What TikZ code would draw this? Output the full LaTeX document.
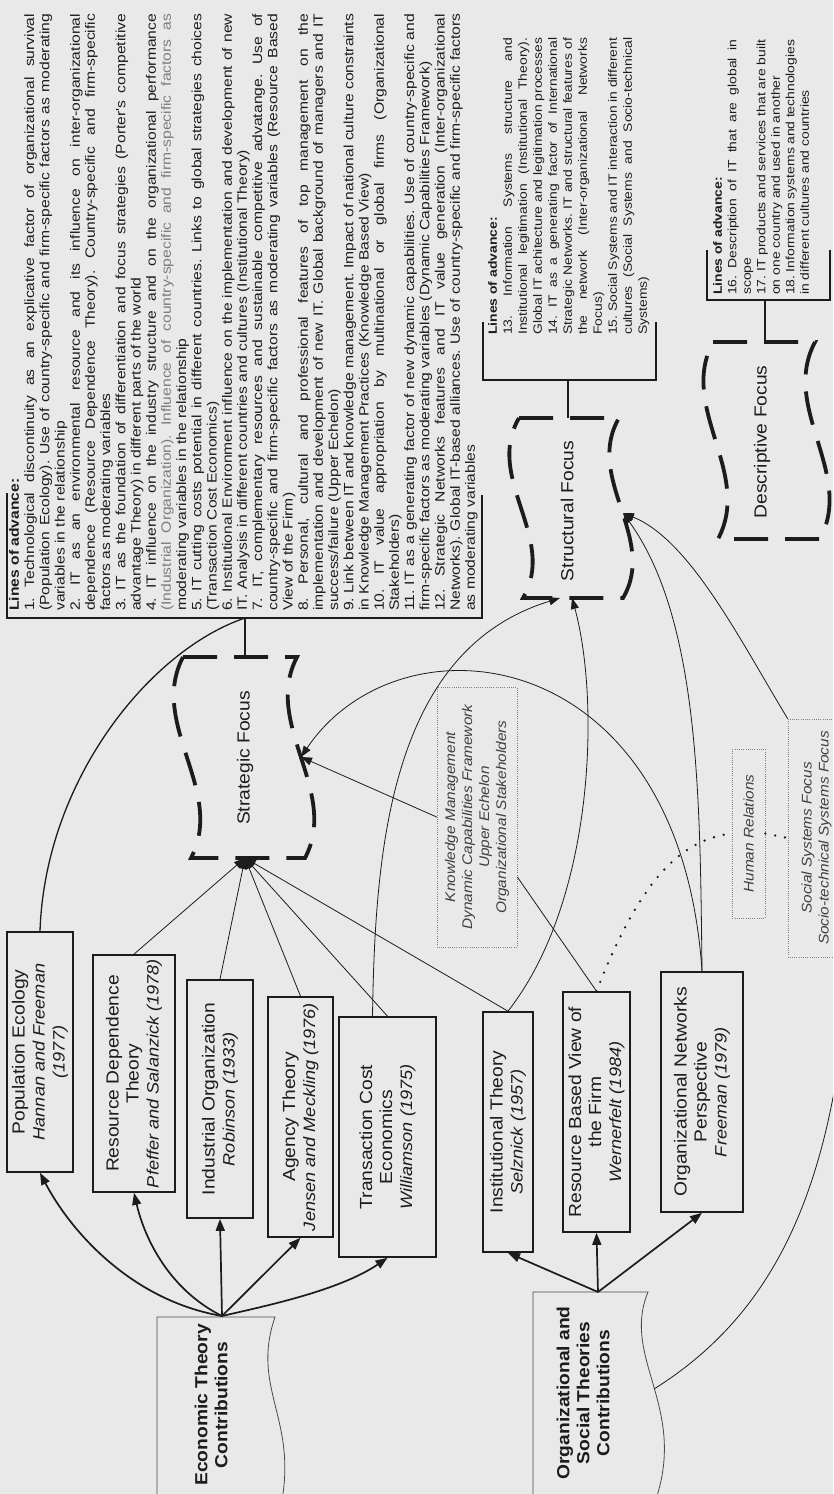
\documentclass[tikz,border=0pt]{standalone}
\usepackage{fontspec}
\setmainfont{Liberation Sans}[FakeStretch=1.1]
\newfontfamily\loafont{Liberation Sans}[FakeStretch=1.16]
\usetikzlibrary{arrows.meta,calc}
\definecolor{bg}{RGB}{233,233,233}
\definecolor{ink}{RGB}{28,28,28}
\definecolor{dimink}{RGB}{125,125,125}
\newcommand{\au}[1]{{\fontsize{16.5}{20}\selectfont\itshape #1}}
\newcommand{\loaset}{\loafont\frenchspacing\tolerance=10000 \hbadness=10000 \hfuzz=60pt \hyphenpenalty=10000 \exhyphenpenalty=10000 \parindent=0pt \parskip=0pt }
\begin{document}
\begin{tikzpicture}[x=1pt,y=-1pt,
  theory/.style={draw=ink, line width=1.7pt, rotate=90, align=center, inner sep=2pt, font=\fontsize{17.5}{20}\selectfont, text=ink},
  doctext/.style={rotate=90, align=center, inner sep=0pt, font=\fontsize{17.5}{20}\selectfont\bfseries, text=ink},
  focustext/.style={rotate=90, inner sep=0pt, font=\fontsize{17.5}{20}\selectfont, text=ink},
  dotbox/.style={draw=black!50, line width=0.7pt, dash pattern=on 1pt off 1.2pt, rotate=90, align=center, inner sep=0pt, font=\fontsize{14}{17}\selectfont\itshape, text=black!75},
  loa/.style={rotate=90, anchor=north west, inner sep=0pt, text=ink},
  focusline/.style={draw=ink, line width=3.8pt, dash pattern=on 34pt off 17pt},
  brk/.style={draw=ink, line width=1.6pt},
  curveline/.style={draw=ink, line width=1.3pt},
  thickarrow/.style={draw=ink, line width=1.7pt, -{Triangle[length=12pt,width=9pt]}},
  thinarrow/.style={draw=ink, line width=0.8pt, -{Triangle[length=11pt,width=8pt]}},
  thinline/.style={draw=ink, line width=0.8pt},
  dotline/.style={draw=ink, line width=2.6pt, dash pattern=on 0pt off 10pt, line cap=round},
  docline/.style={draw=ink!80, line width=0.8pt}
]
\path[use as bounding box] (0,0) rectangle (833,1494);
\clip (0,0) rectangle (833,1494);
\fill[bg] (0,0) rectangle (833,1494);

% ---------- Lines of advance (strategic) ----------
\node[loa] (loa1) at (9,611) {\parbox{597pt}{\fontsize{13.5}{15.2}\selectfont\loaset
\textbf{Lines of advance:}\par
1. Technological discontinuity as an explicative factor of organizational survival\linebreak
(Population Ecology). Use of country-specific and firm-specific factors as moderating\linebreak
variables in the relationship\par
2. IT as an environmental resource and its influence on inter-organizational\linebreak
dependence (Resource Dependence Theory). Country-specific and firm-specific\linebreak
factors as moderating variables\par
3. IT as the foundation of differentiation and focus strategies (Porter's competitive\linebreak
advantage Theory) in different parts of the world\par
4. IT influence on the industry structure and on the organizational performance\linebreak
{\color{dimink}(Industrial Organization). Influence of country-specific and firm-specific factors as}\linebreak
moderating variables in the relationship\par
5. IT cutting costs potential in different countries. Links to global strategies choices\linebreak
(Transaction Cost Economics)\par
6. Institutional Environment influence on the implementation and development of new\linebreak
IT. Analysis in different countries and cultures (Institutional Theory)\par
7. IT, complementary resources and sustainable competitive advatange. Use of\linebreak
country-specific and firm-specific factors as moderating variables (Resource Based\linebreak
View of the Firm)\par
8. Personal, cultural and professional features of top management on the\linebreak
implementation and development of new IT. Global background of managers and IT\linebreak
success/failure (Upper Echelon)\par
9. Link between IT and knowledge management. Impact of national culture constraints\linebreak
in Knowledge Management Practices (Knowledge Based View)\par
10. IT value appropriation by multinational or global firms (Organizational\linebreak
Stakeholders)\par
11. IT as a generating factor of new dynamic capabilities. Use of country-specific and\linebreak
firm-specific factors as moderating variables (Dynamic Capabilities Framework)\par
12. Strategic Networks features and IT value generation (Inter-organizational\linebreak
Networks). Global IT-based alliances. Use of country-specific and firm-specific factors\linebreak
as moderating variables\par}};

% ---------- Lines of advance (structural) ----------
\node[loa] (loa2) at (488,335) {\parbox{297pt}{\fontsize{12}{15}\selectfont\loaset
\textbf{Lines of advance:}\par
13. Information Systems structure and\linebreak
Institutional legitimation (Institutional Theory).\linebreak
Global IT achitecture and legitimation processes\par
14. IT as a generating factor of International\linebreak
Strategic Networks. IT and structural features of\linebreak
the network (Inter-organizational Networks\linebreak
Focus)\par
15. Social Systems and IT interaction in different\linebreak
cultures (Social Systems and Socio-technical\linebreak
Systems)\par}};

% ---------- Lines of advance (descriptive) ----------
\node[loa] (loa3) at (713,295) {\parbox{255pt}{\fontsize{12}{14.5}\selectfont\loaset
\textbf{Lines of advance:}\par
16. Description of IT that are global in\linebreak
scope\par
17. IT products and services that are built\linebreak
on one country and used in another\par
18. Information systems and technologies\linebreak
in different cultures and countries\par}};

% brackets
\draw[brk] (7,493) -- (7,618) -- (482,618) -- (482,495);
\coordinate (bigb) at (245,618);
\draw[brk] (483,322) -- (483,380) -- (656,380) -- (656,322);
\coordinate (stmb) at (568,380);
\draw[brk] (707,250) -- (707,300) -- (830,300) -- (830,250);
\coordinate (dsb) at (765,300);

% ---------- Focus shapes ----------
\draw[focusline] (183,657) -- (297,657) .. controls (262,724) and (340,791) .. (305,858) -- (191,858) .. controls (226,791) and (148,724) .. (183,657) -- cycle;
\node[focustext] (sf) at (245,758) {Strategic Focus};
\coordinate (sft) at (245,657);
\coordinate (sfb) at (245,858);
\coordinate (sfr) at (301,757);

\draw[focusline] (519,418) -- (619,418) .. controls (584,478) and (658,538) .. (623,598) -- (523,598) .. controls (558,538) and (484,478) .. (519,418) -- cycle;
\node[focustext] (stf) at (567,511) {Structural Focus};
\coordinate (stt) at (568,418);
\coordinate (stb1) at (560,598);
\coordinate (stb2) at (572,598);
\coordinate (str) at (623,513);

\draw[focusline] (713,342) -- (815,342) .. controls (780,408) and (855,473) .. (820,539) -- (718,539) .. controls (753,473) and (678,408) .. (713,342) -- cycle;
\node[focustext] (dsf) at (762,442) {Descriptive Focus};
\coordinate (dft) at (765,342);

\draw[brk] (bigb) -- (sft);
\draw[brk] (stmb) -- (stt);
\draw[brk] (dsb) -- (dft);

% ---------- Theory boxes ----------
\node[theory, minimum width=240pt, minimum height=66pt] (pe) at (40,1052) {Population Ecology\\\au{Hannan and Freeman}\\\au{(1977)}};
\node[theory, minimum width=237pt, minimum height=82pt] (rd) at (134,1073.5) {Resource Dependence\\Theory\\\au{Pfeffer and Salanzick (1978)}};
\node[theory, minimum width=238pt, minimum height=66pt] (io) at (220,1099) {Industrial Organization\\\au{Robinson (1933)}};
\node[theory, minimum width=240pt, minimum height=65pt] (at) at (300.5,1117) {Agency Theory\\\au{Jensen and Meckling (1976)}};
\node[theory, minimum width=240pt, minimum height=97pt] (tc) at (387.5,1137) {Transaction Cost\\Economics\\\au{Williamson (1975)}};
\node[theory, minimum width=240pt, minimum height=50pt] (int) at (508,1132) {Institutional Theory\\\au{Selznick (1957)}};
\node[theory, minimum width=240pt, minimum height=67pt] (rbv) at (596.5,1112) {Resource Based View of\\the Firm\\\au{Wernerfelt (1984)}};
\node[theory, minimum width=240pt, minimum height=82pt] (on) at (702,1092) {Organizational Networks\\Perspective\\\au{Freeman (1979)}};

% ---------- Dotted boxes ----------
\node[dotbox, minimum width=260pt, minimum height=80pt] (km) at (477,817) {Knowledge Management\\Dynamic Capabilities Framework\\Upper Echelon\\Organizational Stakeholders};
\node[dotbox, minimum width=169pt, minimum height=33pt] (hr) at (748.5,833.5) {Human Relations};
\node[dotbox, minimum width=238pt, minimum height=57pt] (ss) at (816.5,838) {Social Systems Focus\\Socio-technical Systems Focus};

% ---------- Contribution documents ----------
\draw[docline] (157,1317) -- (275,1317) .. controls (250,1390) and (300,1420) .. (280,1510) -- (157,1510) -- cycle;
\node[doctext] (econ) at (211,1405) {Economic Theory\\Contributions};
\coordinate (ecotop) at (222,1316);

\draw[docline] (533,1292) -- (648,1292) .. controls (620,1360) and (692,1410) .. (652,1510) -- (533,1510) -- cycle;
\node[doctext] (org) at (583,1393) {Organizational and\\Social Theories\\Contributions};
\coordinate (orgtop) at (598,1292);
\coordinate (orgside) at (654,1389);

% ---------- Arrows from contributions ----------
\draw[thickarrow] (ecotop) .. controls (130,1300) and (70,1230) .. (pe.west);
\draw[thickarrow] (ecotop) .. controls (170,1290) and (145,1240) .. (rd.west);
\draw[thickarrow] (ecotop) -- (io.west);
\draw[thickarrow] (ecotop) -- (at.west);
\draw[thickarrow] (ecotop) .. controls (270,1305) and (340,1290) .. (tc.west);

\draw[thickarrow] (orgtop) -- (int.west);
\draw[thickarrow] (orgtop) -- (rbv.west);
\draw[thickarrow] (orgtop) -- (on.west);

% ---------- Links to Strategic Focus ----------
\draw[curveline] (pe.east) .. controls (45,780) and (150,650) .. (bigb);
\draw[thinarrow] (rd.east) -- (sfb);
\draw[thinarrow] (io.east) -- (sfb);
\draw[thinarrow] (at.east) -- (sfb);
\draw[thinarrow] (tc.east) -- (sfb);
\draw[thinarrow] (int.east) -- (sfb);
\draw[thinarrow] (km.north) -- (sfr);
\draw[thinarrow] (on.east) .. controls (680,640) and (400,610) .. (sfr);
\draw[thinline] (rbv.east) -- ($(km.south)+(0,60)$);

% ---------- Links to Structural Focus ----------
\draw[thinarrow] ($(tc.east)+(-15,0)$) .. controls (375,850) and (390,650) .. (stb1);
\draw[thinarrow] (int.east) .. controls (595,900) and (600,700) .. (stb2);
\draw[thinarrow] (on.east) .. controls (700,800) and (700,620) .. (str);
\draw[thinarrow] (ss.north east) .. controls (740,640) and (690,540) .. (str);

% ---------- Dotted relations ----------
\draw[dotline] (rbv.east) .. controls (640,880) and (680,840) .. (hr.north);
\draw[dotline] (hr.south) -- (ss.north);

% ---------- Long curve from organizational contributions ----------
\draw[thinline] (orgside) .. controls (780,1310) and (835,1180) .. (850,960);
\end{tikzpicture}
\end{document}
